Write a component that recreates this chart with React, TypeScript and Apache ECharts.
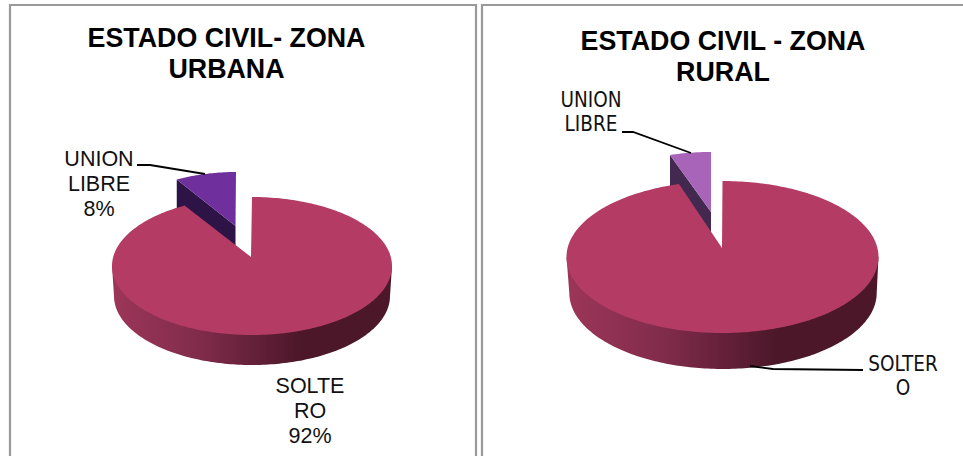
import React, { useEffect, useRef } from "react";
import * as echarts from "echarts";

const urbanCategories = ["UNION LIBRE", "SOLTERO"];
const urbanValues = [8, 92];
const urbanLabels = ["UNION\nLIBRE\n8%", "SOLTE\nRO\n92%"];
const ruralCategories = ["UNION LIBRE", "SOLTERO"];
const ruralValues = [4.5, 95.5];
const ruralLabels = ["UNION\nLIBRE", "SOLTER\nO"];
const titles = ["ESTADO CIVIL- ZONA\nURBANA", "ESTADO CIVIL - ZONA\nRURAL"];

const WALL = [
  { offset: 0, color: "#9c3659" },
  { offset: 0.3, color: "#822c4b" },
  { offset: 0.68, color: "#4b1729" },
  { offset: 1, color: "#4b1729" },
];
const TOP = "#b33b64";

const LABEL_FONT_URBAN = { fontFamily: "Liberation Sans", fontSize: 21.5, lineHeight: 25 };
const LABEL_FONT_RURAL = { fontFamily: "DejaVu Sans Condensed", fontSize: 20.5, lineHeight: 24.5 };

const urbanLayout = {
  top: { cx: 252, cy: 266, rx: 140, ry: 69 },
  bottom: { cx: 252, cy: 296, rx: 138, ry: 69 },
  apex: [251, 257],
  slice: { cx: 236, cy: 233, rx: 123, ry: 61, apex: [235.5, 226], depth: 30, top: "#6f2f9c", wall: "#2d1346" },
  labelPos: [[99, 184], [310, 411]],
  leaders: [[[137, 165], [150, 165], [205, 174]], null],
  font: LABEL_FONT_URBAN,
};
const ruralLayout = {
  top: { cx: 722.5, cy: 257, rx: 156, ry: 76 },
  bottom: { cx: 723, cy: 293, rx: 153.7, ry: 76 },
  apex: [722, 248],
  slice: { cx: 711, cy: 227, rx: 147, ry: 75, apex: [711, 212], depth: 36, top: "#a864b8", wall: "#43284f" },
  labelPos: [[591, 112], [903, 376]],
  leaders: [[[622, 132], [633, 132], [691, 153]], [[863, 370], [773, 369], [750, 366]]],
  font: LABEL_FONT_RURAL,
};

function rimPoints(c: any, a0: number, a1: number) {
  const pts: number[][] = [];
  const n = Math.max(2, Math.ceil(Math.abs(a1 - a0) / 0.02));
  for (let i = 0; i <= n; i++) {
    const a = a0 + ((a1 - a0) * i) / n;
    pts.push([c.cx + c.rx * Math.sin(a), c.cy - c.ry * Math.cos(a)]);
  }
  return pts;
}

function makeSeries(categories: string[], values: number[], labels: string[], L: any) {
  const total = values.reduce((s, v) => s + v, 0);
  return {
    type: "custom",
    coordinateSystem: "none",
    silent: true,
    data: categories.map((name, i) => ({ name, value: [values[i]] })),
    renderItem: (params: any, api: any) => {
      const i = params.dataIndex;
      const frac = api.value(0) / total;
      const children: any[] = [];
      if (i === 0) {
        // exploded slice, ending at 12 o'clock
        const s = L.slice;
        const a0 = -frac * Math.PI * 2;
        const rim = rimPoints(s, a0, 0);
        const left = rim[0];
        children.push({
          type: "polygon",
          shape: { points: [left, s.apex, [s.apex[0], s.apex[1] + s.depth], [left[0], left[1] + s.depth]] },
          style: { fill: s.wall },
        });
        children.push({
          type: "polygon",
          shape: { points: [s.apex, ...rim] },
          style: { fill: s.top },
        });
      } else {
        const arc = frac * Math.PI * 2;
        const b = L.bottom;
        const t = L.top;
        const lower: number[][] = rimPoints(b, Math.PI / 2, (Math.PI * 3) / 2);
        children.push({
          type: "polygon",
          shape: { points: [[t.cx + t.rx, t.cy], ...lower, [t.cx - t.rx, t.cy]] },
          style: { fill: new echarts.graphic.LinearGradient(0, 0, 1, 0, WALL) },
        });
        children.push({
          type: "polygon",
          shape: { points: [L.apex, ...rimPoints(t, 0, arc)] },
          style: { fill: TOP },
        });
      }
      const lead = L.leaders[i];
      if (lead) {
        children.push({
          type: "polyline",
          shape: { points: lead },
          style: { stroke: "#000", lineWidth: 1.8, fill: "none" },
        });
      }
      children.push({
        type: "text",
        style: {
          text: labels[i],
          x: L.labelPos[i][0],
          y: L.labelPos[i][1],
          textAlign: "center",
          textVerticalAlign: "middle",
          fill: "#111",
          ...L.font,
        },
      });
      return { type: "group", children };
    },
  };
}

export default function App() {
  const ref = useRef<HTMLDivElement>(null);
  useEffect(() => {
    const chart = echarts.init(ref.current!, undefined, { renderer: "svg" });
    const titleStyle = {
      fontFamily: "Liberation Sans",
      fontWeight: "bold" as const,
      fontSize: 26.8,
      lineHeight: 31,
      color: "#000",
    };
    chart.setOption({
      animation: false,
      backgroundColor: "#fff",
      title: [
        { text: titles[0], left: 226.5, top: 22, textAlign: "center", textStyle: titleStyle, padding: 0 },
        { text: titles[1], left: 723, top: 25, textAlign: "center", textStyle: titleStyle, padding: 0 },
      ],
      graphic: [
        { type: "polyline", shape: { points: [[10, 460], [10, 5], [476, 5], [476, 460]] }, style: { stroke: "#999", lineWidth: 2.2, fill: "none" } },
        { type: "polyline", shape: { points: [[482, 460], [482, 5], [965, 5]] }, style: { stroke: "#999", lineWidth: 2.2, fill: "none" } },
      ],
      series: [
        makeSeries(urbanCategories, urbanValues, urbanLabels, urbanLayout),
        makeSeries(ruralCategories, ruralValues, ruralLabels, ruralLayout),
      ],
    });
    return () => chart.dispose();
  }, []);
  return (
    <div style={{ position: "fixed", left: 0, top: 0 }}>
      <div ref={ref} style={{ width: 963, height: 456 }} />
    </div>
  );
}
